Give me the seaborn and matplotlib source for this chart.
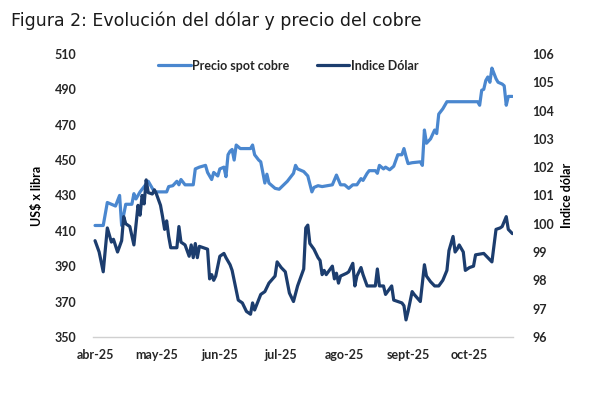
import matplotlib
matplotlib.use("Agg")
import matplotlib.pyplot as plt
import seaborn as sns
import pandas as pd

# ---- data (days since 2025-04-01) ----
copper_days = [0, 4, 6, 8, 10, 11, 12, 13, 15, 18, 19, 20, 22, 24, 26, 28, 29, 35, 36, 38, 40, 41, 42, 44, 45, 48,
               49, 51, 54, 55, 57, 58, 60, 61, 63, 64, 65, 66, 67, 68, 69, 71, 74, 76, 77, 78, 80, 81, 82, 83, 84,
               85, 88, 90, 94, 97, 98, 99, 102, 104, 106, 107, 109, 111, 116, 118, 120, 122, 124, 126, 128, 130,
               131, 133, 134, 137, 138, 139, 141, 142, 144, 146, 148, 150, 151, 152, 153, 155, 159, 160, 161, 162,
               164, 166, 167, 168, 170, 172, 187, 188, 189, 190, 191, 192, 193, 194, 195, 196, 197, 199, 200, 201,
               202, 204]
copper_values = [413, 413, 426, 425, 424, 427, 430, 413, 425, 425, 431, 428, 432, 435, 438, 434, 432, 432, 435, 435.5,
                 438, 436, 439, 436, 436, 436, 445, 446, 447, 443, 439, 443, 441, 445, 446, 440.6, 453, 455, 456, 450,
                 458.5, 456.5, 456.5, 456.5, 458.5, 453, 450, 449, 443, 437, 442, 437, 434, 433.5, 438, 442.5, 447,
                 445, 443.5, 441, 432, 434.5, 435.5, 435, 436, 441.5, 436, 436, 434, 436, 436, 439.5, 438.5, 442.5,
                 444, 444, 442.5, 447, 445, 446, 444.5, 446.5, 453, 453, 456.5, 452, 448, 448.5, 449, 447, 467, 459.5,
                 462, 467, 465, 476, 479, 483, 483, 481, 489.5, 490, 495, 497, 494, 502, 499, 496, 494, 493, 492, 481,
                 486, 486]

dollar_days = [0, 2, 4, 6, 8, 9, 11, 13, 14, 15, 17, 19, 21, 22, 23, 24, 25, 26, 28, 29, 30, 32, 33, 34, 35, 36, 37,
               40, 41, 42, 44, 46, 47, 48, 49, 50, 51, 53, 55, 56, 57, 58, 59, 61, 63, 64, 66, 67, 69, 70, 72, 74, 76,
               77, 78, 81, 83, 85, 88, 89, 91, 93, 95, 97, 99, 102, 103, 104, 105, 107, 109, 110, 111, 112, 113, 116,
               117, 118, 119, 120, 123, 124, 126, 127, 128, 130, 131, 133, 137, 138, 139, 141, 142, 145, 146, 150,
               151, 152, 153, 155, 156, 159, 161, 162, 164, 166, 168, 170, 172, 173, 175, 176, 177, 178, 180, 181,
               183, 185, 186, 190, 192, 194, 196, 198, 199, 201, 202, 204]
dollar_values = [99.4, 99.0, 98.3, 99.85, 99.35, 99.45, 99.0, 99.4, 100.25, 100.0, 99.9, 99.25, 100.65, 100.3, 101.0,
                 100.7, 101.55, 101.1, 101.05, 101.2, 101.05, 100.65, 100.25, 99.8, 100.1, 99.55, 99.15, 99.15, 99.9,
                 99.35, 99.25, 98.85, 99.25, 98.8, 99.3, 98.8, 99.2, 99.15, 99.1, 98.05, 98.2, 98.0, 98.15, 98.85,
                 98.95, 98.8, 98.55, 98.35, 97.65, 97.3, 97.2, 96.9, 96.8, 97.2, 96.95, 97.5, 97.6, 97.9, 98.15, 98.65,
                 98.45, 98.3, 97.55, 97.25, 97.8, 98.4, 99.85, 99.95, 99.3, 99.1, 98.8, 98.7, 98.2, 98.35, 98.2, 98.5,
                 98.05, 98.25, 97.9, 98.15, 98.25, 98.3, 98.6, 97.8, 98.15, 98.45, 98.2, 97.8, 97.8, 98.4, 97.8, 97.8,
                 97.5, 97.8, 97.3, 97.2, 97.1, 96.6, 96.9, 97.6, 97.5, 97.25, 98.55, 98.15, 97.95, 97.8, 97.8, 98.0,
                 98.35, 99.05, 99.55, 99.0, 99.1, 99.25, 99.0, 98.35, 98.45, 98.5, 98.9, 98.95, 98.8, 98.65, 99.8,
                 99.85, 99.9, 100.25, 99.8, 99.65]

month_starts = ["2025-04-01", "2025-05-01", "2025-06-01", "2025-07-01", "2025-08-01", "2025-09-01", "2025-10-01"]
month_labels = ["abr-25", "may-25", "jun-25", "jul-25", "ago-25", "sept-25", "oct-25"]
left_ticks = [350, 370, 390, 410, 430, 450, 470, 490, 510]
right_ticks = [96, 97, 98, 99, 100, 101, 102, 103, 104, 105, 106]

series_names = ["Precio spot cobre", "Indice Dólar"]

# ---- build frames ----
base = pd.Timestamp("2025-04-01")
copper_df = pd.DataFrame({"fecha": base + pd.to_timedelta(copper_days, unit="D"), "valor": copper_values})
dollar_df = pd.DataFrame({"fecha": base + pd.to_timedelta(dollar_days, unit="D"), "valor": dollar_values})

sns.set_theme(style="white")
plt.rcParams["font.family"] = ["Lato", "DejaVu Sans"]

fig = plt.figure(figsize=(6.0, 3.94), dpi=100)
ax = fig.add_axes([0.155, 0.145, 0.70, 0.718])
ax2 = ax.twinx()

c_copper = "#4A87CF"
c_dollar = "#1C3D6E"

sns.lineplot(data=copper_df, x="fecha", y="valor", ax=ax, color=c_copper, linewidth=2.3, label=series_names[0],
             legend=False)
sns.lineplot(data=dollar_df, x="fecha", y="valor", ax=ax2, color=c_dollar, linewidth=2.3, label=series_names[1],
             legend=False)

ax.set_ylim(350, 510)
ax2.set_ylim(96, 106)
ax.set_xlim(base - pd.Timedelta(days=1), base + pd.Timedelta(days=204.3))

ax.set_yticks(left_ticks)
ax.set_yticklabels([str(t) for t in left_ticks])
ax2.set_yticks(right_ticks)
ax2.set_yticklabels([str(t) for t in right_ticks])
ax.set_xticks(pd.to_datetime(month_starts))
ax.set_xticklabels(month_labels)

tick_color = "#262626"
for a in (ax, ax2):
    for s in ("top", "left", "right"):
        a.spines[s].set_visible(False)
    a.spines["bottom"].set_visible(False)
    a.tick_params(length=0, labelsize=9, colors=tick_color)
    for lab in a.get_xticklabels() + a.get_yticklabels():
        lab.set_fontweight("bold")
ax.spines["bottom"].set_visible(True)
ax.spines["bottom"].set_color("#d0d0d0")
ax.spines["bottom"].set_linewidth(1.0)
ax.tick_params(axis="y", pad=12)
ax.tick_params(axis="x", pad=9)
ax2.tick_params(axis="y", pad=14)

ax.set_xlabel("")
ax.set_ylabel("US$ x libra", fontsize=9, fontweight="bold", color="black", labelpad=8)
ax2.set_ylabel("Indice dólar", fontsize=9, fontweight="bold", color="black", labelpad=5)

ax.grid(False)
ax2.grid(False)

h1, l1 = ax.get_legend_handles_labels()
h2, l2 = ax2.get_legend_handles_labels()
leg = ax.legend(h1 + h2, l1 + l2, loc="upper center", bbox_to_anchor=(0.465, 1.02), ncol=2, frameon=False,
                fontsize=9, handlelength=2.6, handletextpad=0.1, columnspacing=2.2)
for t in leg.get_texts():
    t.set_fontweight("bold")
    t.set_color(tick_color)

fig.text(0.018, 0.948, "Figura 2: Evolución del dólar y precio del cobre", fontsize=12.5,
         family=["DejaVu Sans"], color="#1a1a1a", va="center", ha="left")

fig.savefig("out.png", dpi=100, facecolor="white")
